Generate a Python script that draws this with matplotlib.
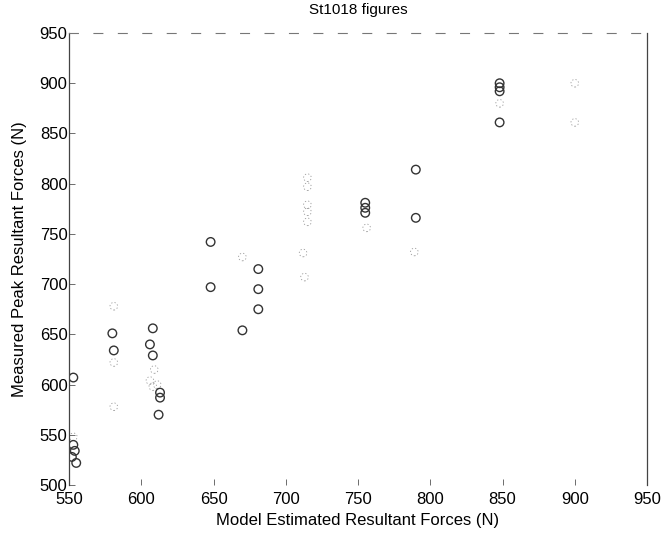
import numpy as np
import matplotlib.pyplot as plt

plt.rcParams['font.family'] = ['Liberation Sans', 'DejaVu Sans']

# clearly printed circle markers
model_x = [553, 553, 554, 552, 555,
           580, 581,
           608, 606, 608, 613, 613, 612,
           648, 648, 670, 681, 681, 681,
           755, 755, 755, 790, 790,
           848, 848, 848, 848]
measured_y = [607, 540, 534, 528, 522,
              651, 634,
              656, 640, 629, 592, 587, 570,
              742, 697, 654, 715, 695, 675,
              781, 776, 771, 814, 766,
              900, 896, 892, 861]

# faded / broken markers
faint_x = [553, 581, 581, 581, 606, 609, 611, 608,
           670, 712, 713, 715, 715, 715, 715, 715,
           756, 789, 848, 900, 900]
faint_y = [548, 678, 622, 578, 604, 615, 600, 598,
           727, 731, 707, 806, 797, 779, 772, 762,
           756, 732, 880, 900, 861]

x_ticks = [550, 600, 650, 700, 750, 800, 850, 900, 950]
y_ticks = [500, 550, 600, 650, 700, 750, 800, 850, 900, 950]

fig = plt.figure(figsize=(6.66, 5.36), dpi=100)
ax = fig.add_axes([0.1036, 0.0951, 0.8679, 0.8433])

ax.scatter(faint_x, faint_y, s=30, facecolors='none', edgecolors='#9a9a9a',
           linewidths=0.6, linestyle=(0, (1.5, 2.5)))
ax.scatter(model_x, measured_y, s=38, facecolors='none', edgecolors='#333333',
           linewidths=1.0)

ax.set_xlim(550, 950)
ax.set_ylim(500, 950)
ax.set_xticks(x_ticks)
ax.set_yticks(y_ticks)
ax.tick_params(direction='in', length=4, width=0.6, color='#555555',
               labelsize=12, labelcolor='black')
ax.tick_params(axis='x', pad=5)
ax.tick_params(axis='y', pad=1)

for side in ['left', 'right']:
    ax.spines[side].set_linewidth(0.9)
    ax.spines[side].set_color('#444444')
ax.spines['bottom'].set_visible(False)
ax.spines['top'].set_linewidth(0.8)
ax.spines['top'].set_color('#777777')
ax.spines['top'].set_linestyle((0, (8, 14)))

ax.set_xlabel('Model Estimated Resultant Forces (N)', fontsize=12, labelpad=4)
ax.set_ylabel('Measured Peak Resultant Forces (N)', fontsize=12, labelpad=9)
ax.set_title('St1018 figures', fontsize=11, pad=14)

fig.savefig('out.png', dpi=100)
